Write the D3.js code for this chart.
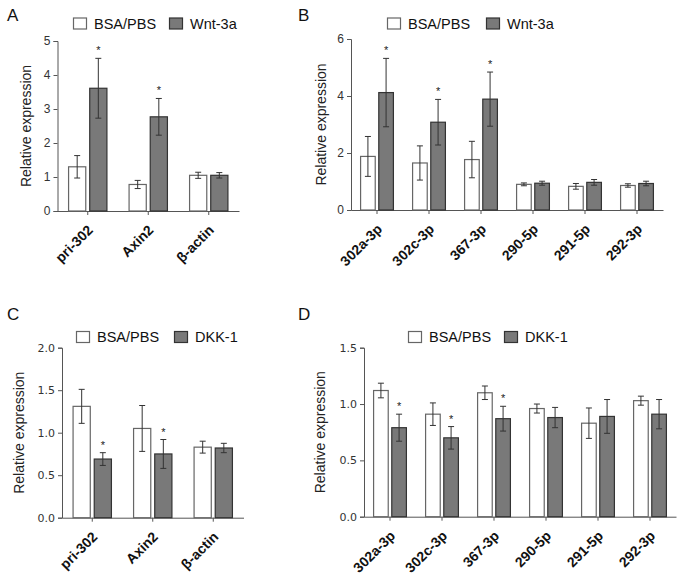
<!DOCTYPE html>
<html><head><meta charset="utf-8">
<script src="https://cdn.jsdelivr.net/npm/d3@7"></script>
<style>body{margin:0;background:#fff}</style>
</head><body>
<svg id="c" width="683" height="576"></svg>
<script>
// ---- data ----
const catsA = ["pri-302", "Axin2", "β-actin"];
const ctrlA = [1.30, 0.78, 1.05];
const ctrlErrA = [0.33, 0.12, 0.09];
const trtA = [3.61, 2.77, 1.05];
const trtErrA = [0.88, 0.54, 0.08];
const sigA = [true, true, false];
const ticksA = [0, 1, 2, 3, 4, 5];

const catsB = ["302a-3p", "302c-3p", "367-3p", "290-5p", "291-5p", "292-3p"];
const ctrlB = [1.88, 1.65, 1.77, 0.90, 0.83, 0.86];
const ctrlErrB = [0.70, 0.60, 0.64, 0.05, 0.10, 0.06];
const trtB = [4.12, 3.08, 3.89, 0.94, 0.97, 0.93];
const trtErrB = [1.20, 0.80, 0.95, 0.07, 0.10, 0.08];
const sigB = [true, true, true, false, false, false];
const ticksB = [0, 2, 4, 6];

const catsC = ["pri-302", "Axin2", "β-actin"];
const ctrlC = [1.31, 1.05, 0.83];
const ctrlErrC = [0.20, 0.27, 0.07];
const trtC = [0.69, 0.75, 0.82];
const trtErrC = [0.075, 0.17, 0.055];
const sigC = [true, true, false];
const ticksC = [0, 0.5, 1.0, 1.5, 2.0];

const catsD = ["302a-3p", "302c-3p", "367-3p", "290-5p", "291-5p", "292-3p"];
const ctrlD = [1.12, 0.91, 1.10, 0.96, 0.83, 1.03];
const ctrlErrD = [0.065, 0.10, 0.06, 0.04, 0.135, 0.04];
const trtD = [0.79, 0.70, 0.87, 0.88, 0.89, 0.91];
const trtErrD = [0.12, 0.10, 0.11, 0.09, 0.15, 0.13];
const sigD = [true, true, true, false, false, false];
const ticksD = [0, 0.5, 1.0, 1.5];

const legendCtrl = "BSA/PBS";
const legendWnt = "Wnt-3a";
const legendDKK = "DKK-1";
const yTitle = "Relative expression";

// ---- drawing ----
const svg = d3.select("#c");
const FONT = "'Liberation Sans', Arial, sans-serif";
const GREY = "#797979";

function panel(o) {
  const g = svg.append("g");
  const y = d3.scaleLinear().domain([0, o.max]).range([o.yBot, o.yTop]);
  const x = d3.scaleBand().domain(o.cats).range([o.x0, o.x1]);
  const xs = d3.scaleBand().domain(["c", "t"]).range([0, x.step()]).paddingInner(0.14).paddingOuter(0.5);

  // y axis
  const ya = g.append("g").attr("transform", `translate(${o.x0},0)`)
    .call(d3.axisLeft(y).tickValues(o.ticks).tickSize(4).tickPadding(3)
      .tickFormat(o.fmt));
  ya.select(".domain").attr("stroke", "#555");
  ya.selectAll(".tick line").attr("stroke", "#555");
  ya.selectAll("text").attr("font-family", o.tickFont).attr("font-size", o.tickSize).attr("fill", "#333");

  // x axis
  const xa = g.append("g").attr("transform", `translate(0,${o.yBot})`)
    .call(d3.axisBottom(x).tickSize(4).tickSizeOuter(0));
  xa.select(".domain").attr("stroke", "#555");
  xa.selectAll(".tick line").attr("stroke", "#555");
  xa.selectAll("text").remove();
  g.selectAll(".xl").data(o.cats).enter().append("text")
    .attr("transform", d => `translate(${x(d) + x.bandwidth() / 2 + 6},${o.yBot + 20}) rotate(-45)`)
    .attr("text-anchor", "end").attr("font-family", FONT).attr("font-weight", "bold")
    .attr("font-size", 14).attr("fill", "#111").text(d => d);

  const rows = o.cats.map((c, i) => ({ c, i }));
  const series = [
    { k: "c", v: o.ctrl, e: o.ctrlErr, fill: "#fff", stroke: "#666" },
    { k: "t", v: o.trt, e: o.trtErr, fill: GREY, stroke: "#333" }
  ];
  series.forEach(s => {
    const bw = xs.bandwidth();
    g.selectAll(null).data(rows).enter().append("rect")
      .attr("x", d => x(d.c) + xs(s.k) + 0.5)
      .attr("y", d => y(s.v[d.i]))
      .attr("width", bw - 1)
      .attr("height", d => o.yBot - y(s.v[d.i]))
      .attr("fill", s.fill).attr("stroke", s.stroke).attr("stroke-width", 1.2);
    // error bars
    const eb = g.selectAll(null).data(rows).enter().append("g").attr("stroke", "#333").attr("stroke-width", 1);
    const cx = d => x(d.c) + xs(s.k) + bw / 2;
    eb.append("line").attr("x1", cx).attr("x2", cx)
      .attr("y1", d => y(s.v[d.i] + s.e[d.i])).attr("y2", d => y(s.v[d.i] - s.e[d.i]));
    eb.append("line").attr("x1", d => cx(d) - 3).attr("x2", d => cx(d) + 3)
      .attr("y1", d => y(s.v[d.i] + s.e[d.i])).attr("y2", d => y(s.v[d.i] + s.e[d.i]));
    eb.append("line").attr("x1", d => cx(d) - 3).attr("x2", d => cx(d) + 3)
      .attr("y1", d => y(s.v[d.i] - s.e[d.i])).attr("y2", d => y(s.v[d.i] - s.e[d.i]));
    if (s.k === "t") {
      g.selectAll(null).data(rows.filter(d => o.sig[d.i])).enter().append("text")
        .attr("x", cx).attr("y", d => y(s.v[d.i] + s.e[d.i]) - 4)
        .attr("text-anchor", "middle").attr("font-family", FONT).attr("font-size", 11)
        .attr("fill", "#222").text("*");
    }
  });

  // y title
  g.append("text")
    .attr("transform", `translate(${o.x0 - o.titleOff},${(o.yTop + o.yBot) / 2}) rotate(-90)`)
    .attr("text-anchor", "middle").attr("font-family", FONT).attr("font-size", 14)
    .attr("fill", "#222").text(yTitle);

  // panel letter
  g.append("text").attr("x", o.lx).attr("y", o.ly).attr("font-family", FONT)
    .attr("font-size", 17).attr("fill", "#111").text(o.letter);

  // legend
  const lg = g.append("g");
  const items = [
    { t: legendCtrl, fill: "#fff", stroke: "#666", x: o.leg[0] },
    { t: o.trtName, fill: GREY, stroke: "#333", x: o.leg[1] }
  ];
  items.forEach(it => {
    lg.append("rect").attr("x", it.x + 0.5).attr("y", o.legY - 10.5).attr("width", 13).attr("height", 11)
      .attr("fill", it.fill).attr("stroke", it.stroke).attr("stroke-width", 1.2);
    lg.append("text").attr("x", it.x + 21).attr("y", o.legY).attr("font-family", FONT)
      .attr("font-size", 14.5).attr("fill", "#111").text(it.t);
  });
}

const fInt = d3.format("d"), fDec = d3.format(".1f");
panel({ cats: catsA, ctrl: ctrlA, ctrlErr: ctrlErrA, trt: trtA, trtErr: trtErrA, sig: sigA, ticks: ticksA,
  max: 5, x0: 57.5, x1: 239, yTop: 41, yBot: 211, fmt: fInt, tickFont: FONT, tickSize: 12,
  titleOff: 27, letter: "A", lx: 7, ly: 21, leg: [73, 169], legY: 28.5, trtName: legendWnt });
panel({ cats: catsB, ctrl: ctrlB, ctrlErr: ctrlErrB, trt: trtB, trtErr: trtErrB, sig: sigB, ticks: ticksB,
  max: 6, x0: 351, x1: 663, yTop: 39, yBot: 210, fmt: fInt, tickFont: FONT, tickSize: 12,
  titleOff: 25, letter: "B", lx: 298, ly: 21, leg: [387, 486], legY: 28.5, trtName: legendWnt });
panel({ cats: catsC, ctrl: ctrlC, ctrlErr: ctrlErrC, trt: trtC, trtErr: trtErrC, sig: sigC, ticks: ticksC,
  max: 2, x0: 62, x1: 243.5, yTop: 347.7, yBot: 517.7, fmt: fDec, tickFont: "'DejaVu Sans', sans-serif", tickSize: 11,
  titleOff: 38, letter: "C", lx: 7, ly: 320, leg: [76, 174], legY: 342, trtName: legendDKK });
panel({ cats: catsD, ctrl: ctrlD, ctrlErr: ctrlErrD, trt: trtD, trtErr: trtErrD, sig: sigD, ticks: ticksD,
  max: 1.5, x0: 364, x1: 676, yTop: 347.7, yBot: 516.7, fmt: fDec, tickFont: "'DejaVu Sans', sans-serif", tickSize: 11,
  titleOff: 39, letter: "D", lx: 298, ly: 320, leg: [408, 504], legY: 342, trtName: legendDKK });
</script>
</body></html>
